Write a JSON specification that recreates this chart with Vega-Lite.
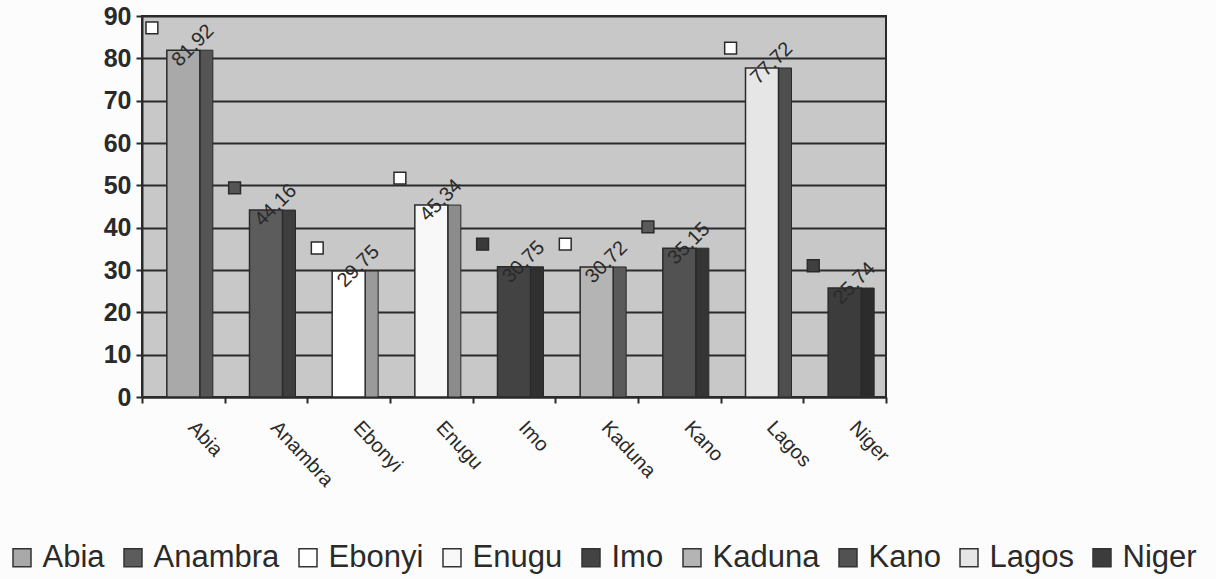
{
  "$schema": "https://vega.github.io/schema/vega-lite/v6.json",
  "autosize": "none",
  "width": 744,
  "height": 381,
  "padding": {"left": 142, "top": 16, "right": 330, "bottom": 182},
  "background": "#fcfcfc",
  "config": {
    "font": "Liberation Sans",
    "view": {"fill": "#c8c8c8", "stroke": "#2a2a2a", "strokeWidth": 2}
  },
  "data": {
    "values": [
      {"state": "Abia", "value": 81.92, "marker": 87.2},
      {"state": "Anambra", "value": 44.16, "marker": 49.4},
      {"state": "Ebonyi", "value": 29.75, "marker": 35.2},
      {"state": "Enugu", "value": 45.34, "marker": 51.7},
      {"state": "Imo", "value": 30.75, "marker": 36.1},
      {"state": "Kaduna", "value": 30.72, "marker": 36.1},
      {"state": "Kano", "value": 35.15, "marker": 40.2},
      {"state": "Lagos", "value": 77.72, "marker": 82.4},
      {"state": "Niger", "value": 25.74, "marker": 31.0}
    ]
  },
  "encoding": {
    "x": {
      "field": "state", "type": "nominal", "sort": null,
      "scale": {"paddingInner": 0, "paddingOuter": 0},
      "axis": {
        "title": null, "tickBand": "extent", "tickSize": 6, "tickColor": "#2a2a2a", "tickWidth": 2,
        "domainColor": "#2a2a2a", "domainWidth": 2,
        "labelAngle": 47, "labelAlign": "left", "labelBaseline": "top",
        "labelFontSize": 20, "labelColor": "#2a2a2a", "labelPadding": 14, "labelOffset": 15
      }
    }
  },
  "layer": [
    {
      "mark": {"type": "bar", "width": 13, "xOffset": 23, "stroke": "#2a2a2a", "strokeWidth": 1},
      "encoding": {
        "y": {"field": "value", "type": "quantitative"},
        "color": {
          "field": "state", "type": "nominal", "sort": null, "legend": null,
          "scale": {"range": ["#555555", "#3e3e3e", "#9a9a9a", "#8c8c8c", "#303030", "#5a5a5a", "#353535", "#4e4e4e", "#2c2c2c"]}
        }
      }
    },
    {
      "mark": {"type": "bar", "width": 33, "stroke": "#2a2a2a", "strokeWidth": 1.5},
      "encoding": {
        "y": {
          "field": "value", "type": "quantitative",
          "scale": {"domain": [0, 90]},
          "axis": {
            "title": null, "values": [0, 10, 20, 30, 40, 50, 60, 70, 80, 90],
            "grid": true, "gridColor": "#2a2a2a", "gridWidth": 2,
            "domainColor": "#2a2a2a", "domainWidth": 2,
            "tickSize": 6, "tickColor": "#2a2a2a", "tickWidth": 2,
            "labelFontSize": 25, "labelFontWeight": "bold", "labelColor": "#2a2a2a", "labelPadding": 5
          }
        },
        "color": {
          "field": "state", "type": "nominal", "sort": null,
          "scale": {"range": ["#a9a9a9", "#5c5c5c", "#ffffff", "#f8f8f8", "#434343", "#b4b4b4", "#525252", "#e6e6e6", "#3c3c3c"]},
          "legend": {
            "title": null, "orient": "none", "direction": "horizontal", "columns": 9,
            "legendX": -129, "legendY": 526, "padding": 0,
            "symbolType": "square", "symbolSize": 324, "symbolStrokeColor": "#333333", "symbolStrokeWidth": 1.5,
            "symbolOffset": -6.5,
            "labelFontSize": 31, "labelColor": "#2a2a2a", "labelOffset": 5, "columnPadding": 16,
            "labelLimit": 300
          }
        }
      }
    },
    {
      "mark": {"type": "point", "shape": "square", "size": 140, "filled": true, "stroke": "#2a2a2a", "strokeWidth": 1.5, "opacity": 1},
      "encoding": {
        "x": {"field": "state", "type": "nominal", "sort": null, "bandPosition": 0.12},
        "y": {"field": "marker", "type": "quantitative"},
        "color": {
          "field": "state", "type": "nominal", "sort": null, "legend": null,
          "scale": {"range": ["#ffffff", "#555555", "#ffffff", "#ffffff", "#3a3a3a", "#ffffff", "#5a5a5a", "#ffffff", "#404040"]}
        }
      }
    },
    {
      "mark": {"type": "text", "angle": -45, "align": "left", "baseline": "middle", "fontSize": 20, "color": "#2a2a2a", "xOffset": -8, "yOffset": 13},
      "encoding": {
        "y": {"field": "value", "type": "quantitative"},
        "text": {"field": "value", "type": "quantitative", "format": ".2f"}
      }
    }
  ],
  "resolve": {"scale": {"color": "independent"}}
}
